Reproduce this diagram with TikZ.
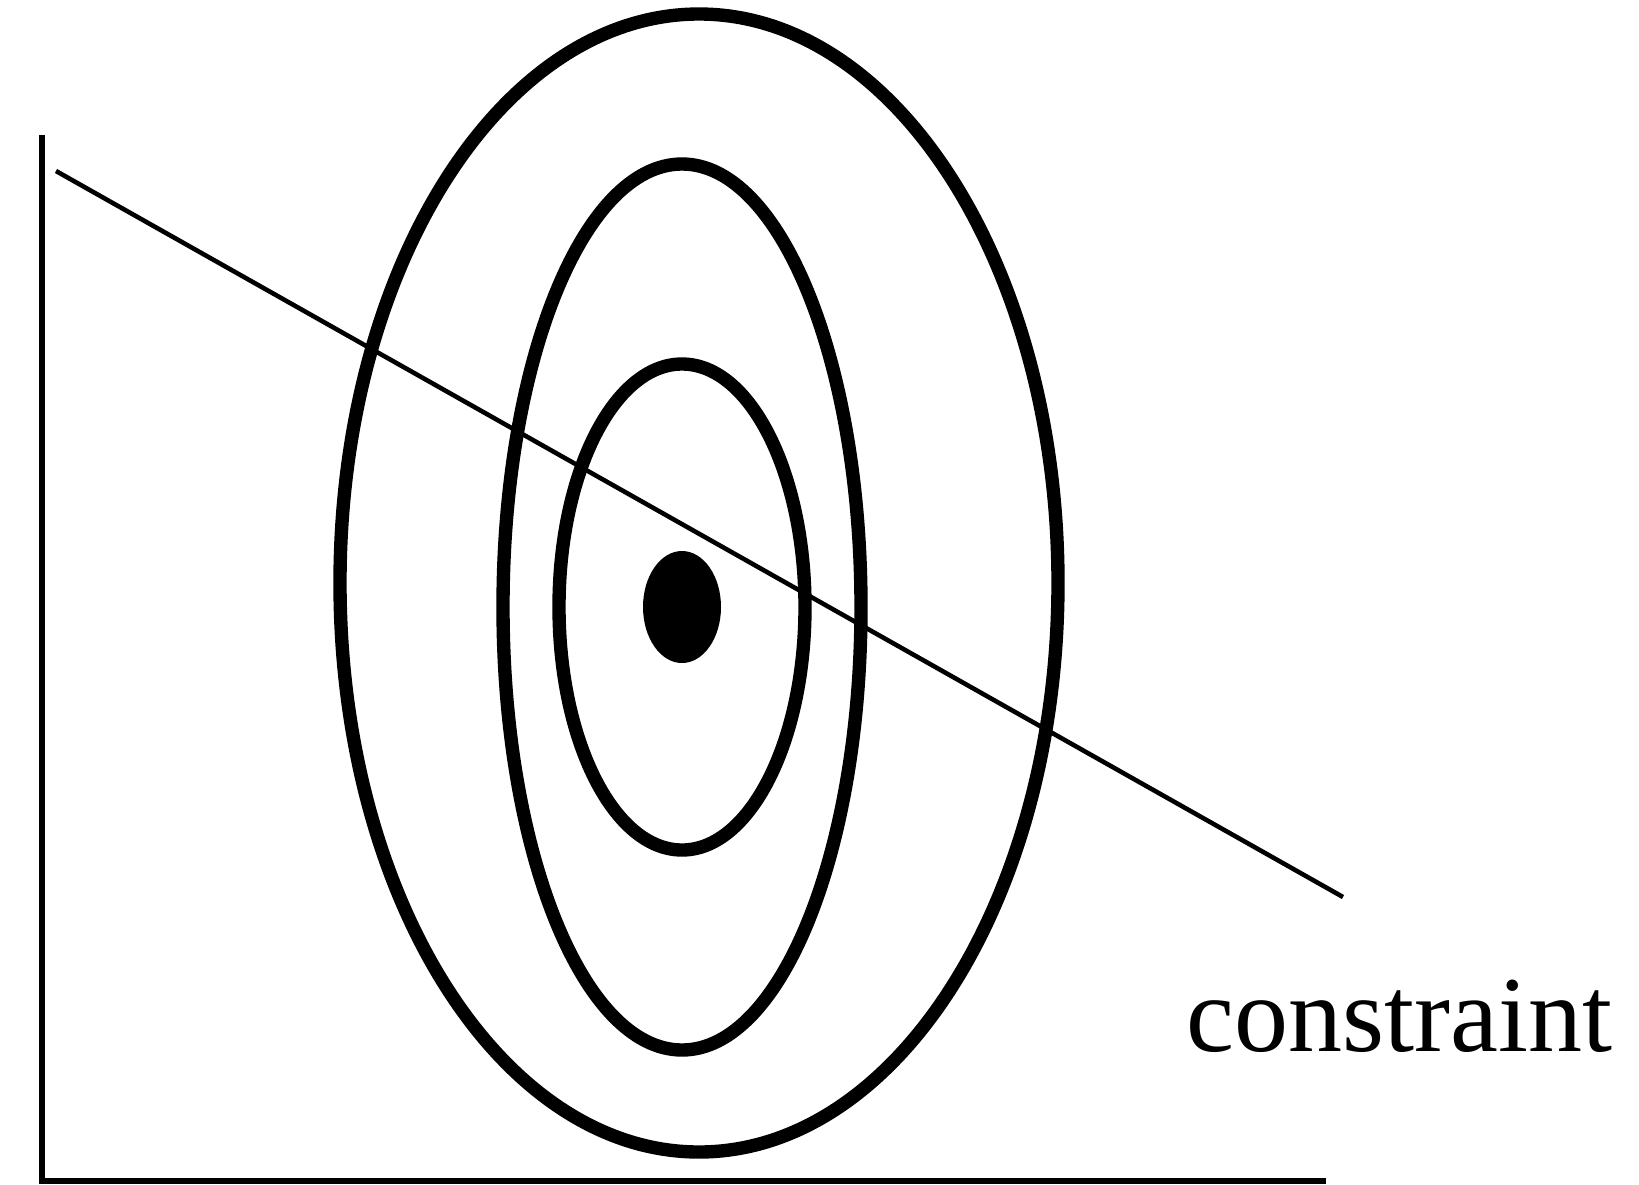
\documentclass[tikz,border=0pt]{standalone}
\usepackage{fontspec}
\newfontfamily\labelfont{Liberation Serif}
\usepackage{tikz}
\usetikzlibrary{positioning}

\begin{document}
\begin{tikzpicture}[
  x=0.01cm, y=-0.01cm,
  axis/.style={draw, line width=1.45pt},
  contour/.style={draw, line width=3.8pt},
  optimum/.style={fill=black},
  constraintline/.style={draw, line width=1.3pt},
  tag/.style={font=\labelfont\fontsize{30.7}{36}\selectfont, inner sep=0pt, anchor=base west}
]

\useasboundingbox (0,0) rectangle (1639,1184);

%% ============================================================
%%  AXES
%% ============================================================
\coordinate (ytop) at (42,135);
\coordinate (orig) at (42,1181);
\coordinate (xend) at (1326,1181);
\draw[axis] (ytop) -- (orig) -- (xend);

%% ============================================================
%%  CONTOURS
%% ============================================================
\coordinate (outerc) at (699,583);
\coordinate (centre) at (682,607);

\draw[contour] (outerc) ellipse [x radius=359, y radius=569];
\draw[contour] (centre) ellipse [x radius=179, y radius=443];
\draw[contour] (centre) ellipse [x radius=123, y radius=243];

%% Optimum
\fill[optimum] (centre) ellipse [x radius=39, y radius=56];

%% ============================================================
%%  CONSTRAINT
%% ============================================================
\coordinate (cstart) at (56,171);
\coordinate (cend) at (1343,897);
\draw[constraintline] (cstart) -- (cend);

\node[tag] (clabel) at (1186,1051) {constraint};

\end{tikzpicture}
\end{document}
